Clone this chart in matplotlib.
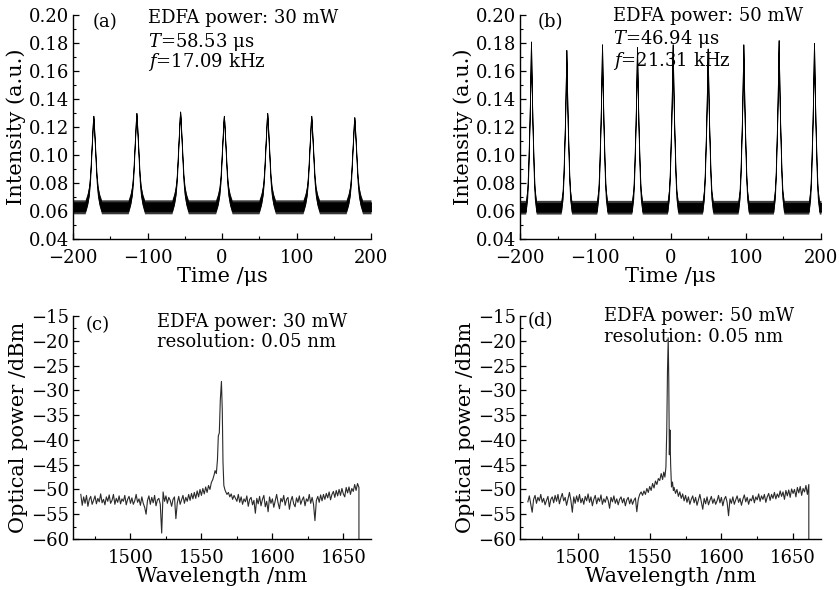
import numpy as np
import matplotlib
matplotlib.use("Agg")
import matplotlib.pyplot as plt
from matplotlib.ticker import MultipleLocator

# ---------------------------------------------------------
# DATA
# ---------------------------------------------------------
# (a) 30 mW pulse train
A_PEAK_T = [-172.7, -114.9, -56.2, 2.5, 60.7, 119.8, 177.6]
A_PEAK_I = [0.128, 0.130, 0.131, 0.128, 0.130, 0.128, 0.127]
A_BAND_OUT = (0.0580, 0.0680)   # faint noise extremes
A_BAND_IN = (0.0598, 0.0662)    # dense noise band
# pulse shape: time offset (us) vs. fraction of height above the band
A_SHAPE_DT = [-11, -8, -6, -4.5, -3.5, -2.5, -1.5, -0.6, 0, 0.6, 1.5, 2.5, 3.5, 4.5, 6, 8, 11]
A_SHAPE_F = [0, 0.08, 0.17, 0.30, 0.45, 0.62, 0.78, 0.93, 1, 0.93, 0.78, 0.62, 0.45, 0.30, 0.17, 0.08, 0]

# (b) 50 mW pulse train
B_PEAK_T = [-185.4, -138.4, -91.0, -44.5, 2.9, 49.4, 96.8, 143.7, 190.7]
B_PEAK_I = [0.181, 0.175, 0.179, 0.177, 0.179, 0.176, 0.179, 0.182, 0.180]
B_BAND_OUT = (0.0578, 0.0676)
B_BAND_IN = (0.0595, 0.0658)
B_SHAPE_DT = [-7, -5, -3.8, -2.9, -2, -1.3, -0.6, 0, 0.6, 1.3, 2, 2.9, 3.8, 5, 7]
B_SHAPE_F = [0, 0.08, 0.20, 0.35, 0.50, 0.65, 0.83, 1, 0.83, 0.65, 0.50, 0.35, 0.20, 0.08, 0]

# (c) 30 mW spectrum
C_LEFT = [-51.0, -53.2, -51.5, -52.8, -51.2, -53.4, -52.0, -51.4, -53.0, -52.2,
          -51.3, -52.9, -51.8, -52.5, -50.9, -52.7, -52.0, -53.1, -51.5, -52.4,
          -51.1, -52.8, -52.2, -51.0, -53.0, -51.8, -52.6, -51.3, -52.9, -51.9,
          -52.4, -51.2, -53.1, -52.0, -51.4, -52.8, -51.7, -53.0, -52.3, -51.0,
          -52.6, -51.9, -53.2, -51.5, -52.8, -53.6, -55.0, -52.2, -51.3, -53.0,
          -51.6, -52.7, -51.2, -53.3, -52.1, -51.8, -53.0, -58.8, -50.5, -52.4,
          -51.3, -52.8, -51.6, -52.2, -53.4, -52.0, -51.5, -55.9, -52.7, -51.4,
          -53.0, -52.1, -51.2, -52.8, -51.6, -52.4, -51.0, -52.2, -50.8, -51.9,
          -50.6, -51.8, -50.3, -51.5, -50.0, -51.2, -49.8, -50.9, -49.5, -50.6,
          -49.2, -50.0, -48.6]                       # 1465 ... 1557 nm
C_PEAK_WL = [1558, 1559, 1559.6, 1560.5, 1561.3, 1561.9, 1562.6, 1563.3, 1564.1,
             1564.7, 1565.2, 1565.8, 1566.5]
C_PEAK_P = [-48.0, -47.0, -46.2, -46.8, -44.0, -39.2, -38.6, -32.0, -28.2,
            -34.0, -44.5, -49.2, -50.0]
C_RIGHT = [-50.4, -51.0, -50.6, -51.5, -50.9, -52.0, -51.2, -51.8, -52.4, -51.0,
           -52.6, -51.5, -53.0, -51.9, -52.5, -51.3, -53.4, -52.0, -51.6, -53.1,
           -52.2, -54.8, -51.8, -52.9, -51.4, -53.3, -52.0, -51.2, -53.5, -52.4,
           -54.5, -51.5, -52.8, -51.9, -53.6, -52.3, -51.0, -52.7, -53.9, -51.8,
           -52.5, -51.2, -53.2, -52.0, -51.6, -54.0, -52.3, -51.4, -52.9, -53.5,
           -51.7, -52.6, -51.3, -53.0, -52.1, -51.5, -53.3, -51.9, -52.4, -51.0,
           -52.8, -51.6, -53.0, -56.3, -52.2, -51.4, -52.6, -51.1, -52.3, -51.0,
           -52.0, -50.8, -51.7, -50.5, -52.1, -51.0, -50.4, -51.6, -50.2, -51.3,
           -50.0, -51.2, -49.8, -50.9, -51.5, -49.6, -50.7, -49.5, -51.0, -49.8,
           -50.4, -49.0, -50.2, -48.8, -49.6]        # 1567 ... 1661 nm

# (d) 50 mW spectrum
D_LEFT = [-52.5, -51.3, -53.0, -54.6, -52.0, -51.2, -52.8, -51.6, -52.3, -51.0,
          -52.6, -51.8, -53.1, -52.2, -51.4, -53.5, -52.0, -51.5, -52.7, -51.2,
          -52.4, -51.0, -52.9, -51.7, -50.8, -52.3, -51.6, -53.2, -51.9, -50.6,
          -52.2, -54.6, -51.5, -52.8, -51.3, -52.5, -51.0, -52.7, -51.8, -53.0,
          -51.4, -52.3, -50.9, -52.6, -51.5, -53.3, -52.0, -51.2, -52.9, -51.7,
          -52.4, -51.1, -53.0, -51.9, -52.6, -51.4, -52.2, -53.8, -51.6, -52.5,
          -51.3, -52.8, -51.9, -53.1, -52.0, -51.5, -52.7, -51.8, -53.3, -52.1,
          -51.6, -52.9, -51.9, -53.0, -52.2, -51.7, -54.5, -52.0, -51.0, -50.5,
          -51.2, -50.3, -51.0, -49.8, -50.6, -49.4, -50.2, -48.8, -49.7, -48.3,
          -49.0, -47.8, -48.2]                       # 1465 ... 1557 nm
D_PEAK_WL = [1558, 1559, 1559.8, 1560.6, 1561.3, 1561.9, 1562.4, 1562.9, 1563.3,
             1563.7, 1564.1, 1564.6, 1565.2, 1565.9, 1566.5]
D_PEAK_P = [-46.8, -48.0, -46.5, -47.5, -45.5, -38.0, -26.0, -19.4, -28.0,
            -43.0, -38.0, -45.0, -49.5, -48.5, -50.2]
D_RIGHT = [-49.6, -50.8, -50.0, -51.4, -50.5, -51.8, -50.9, -52.3, -51.2, -52.6,
           -51.5, -53.0, -52.0, -51.3, -52.7, -51.6, -53.2, -52.1, -51.0, -52.5,
           -54.0, -51.8, -52.9, -51.5, -53.1, -52.2, -51.4, -52.8, -51.9, -53.0,
           -52.3, -51.2, -52.7, -51.6, -53.3, -52.0, -51.4, -52.6, -55.3, -51.9,
           -52.8, -51.5, -53.0, -52.1, -51.3, -52.6, -51.8, -53.2, -52.0, -51.1,
           -52.5, -51.6, -53.0, -51.9, -52.3, -51.2, -52.7, -51.5, -52.1, -50.9,
           -52.4, -51.3, -52.0, -51.0, -52.6, -51.5, -50.8, -52.2, -51.0, -51.8,
           -50.6, -51.9, -50.9, -51.6, -50.3, -51.4, -50.5, -52.0, -50.2, -51.3,
           -50.1, -51.6, -49.9, -50.8, -50.0, -51.5, -49.6, -50.7, -49.4, -51.2,
           -49.8, -50.5, -49.2, -51.0, -49.0]        # 1567 ... 1661 nm

# ---------------------------------------------------------
# STYLE
# ---------------------------------------------------------
plt.rcParams["font.family"] = ["DejaVu Serif"]
plt.rcParams["mathtext.fontset"] = "dejavuserif"

TICK_FS = 13
LABEL_FS = 15
NOTE_FS = 13


def style_axes(ax):
    for s in ("top", "right"):
        ax.spines[s].set_visible(False)
    for s in ("left", "bottom"):
        ax.spines[s].set_linewidth(1.0)
    ax.tick_params(which="both", direction="in", top=False, right=False, labelsize=TICK_FS)
    ax.tick_params(which="major", length=4, width=0.9)
    ax.tick_params(which="minor", length=2.5, width=0.8)
    ax.tick_params(axis="x", which="major", pad=7)
    ax.tick_params(axis="y", which="major", pad=3)


def pulse_train(peak_t, peak_i, dt, frac, band):
    lo, hi = band
    xs, lows, highs = [-200.0], [lo], [hi]
    for t0, p in zip(peak_t, peak_i):
        for d, f in zip(dt, frac):
            xs.append(t0 + d)
            lows.append(lo + f * (p - lo))
            highs.append(hi + f * (p - hi))
    xs.append(200.0); lows.append(lo); highs.append(hi)
    return np.array(xs), np.array(lows), np.array(highs)


def draw_time(ax, peak_t, peak_i, dt, frac, band_out, band_in):
    x, lo, hi = pulse_train(peak_t, peak_i, dt, frac, band_out)
    ax.fill_between(x, lo, hi, color="#3a3a3a", lw=0)
    x, lo, hi = pulse_train(peak_t, peak_i, dt, frac, band_in)
    ax.fill_between(x, lo, hi, color="black", lw=0.6, edgecolor="black")
    ax.set_xlim(-200, 200)
    ax.set_ylim(0.04, 0.20)
    ax.xaxis.set_major_locator(MultipleLocator(100))
    ax.xaxis.set_minor_locator(MultipleLocator(50))
    ax.yaxis.set_major_locator(MultipleLocator(0.02))
    ax.yaxis.set_minor_locator(MultipleLocator(0.01))
    ax.yaxis.set_major_formatter(plt.FormatStrFormatter("%.2f"))
    ax.set_xlabel("Time /μs", fontsize=LABEL_FS, labelpad=0)
    ax.set_ylabel("Intensity (a.u.)", fontsize=LABEL_FS, labelpad=2)
    style_axes(ax)


def draw_spec(ax, left, pk_wl, pk_p, right):
    wl = np.concatenate([np.arange(1465, 1558), pk_wl, np.arange(1567, 1662), [1661]])
    p = np.concatenate([left, pk_p, right, [-60]])
    ax.plot(wl, p, color="#2a2a2a", lw=0.8)
    ax.set_xlim(1459.5, 1669.5)
    ax.set_ylim(-60, -15)
    ax.xaxis.set_minor_locator(MultipleLocator(25))
    ax.yaxis.set_major_locator(MultipleLocator(5))
    ax.yaxis.set_minor_locator(MultipleLocator(2.5))
    ax.set_xticks([1500, 1550, 1600, 1650])
    ax.set_xlabel("Wavelength /nm", fontsize=LABEL_FS, labelpad=0)
    ax.set_ylabel("Optical power /dBm", fontsize=LABEL_FS, labelpad=2)
    style_axes(ax)


# ---------------------------------------------------------
# FIGURE
# ---------------------------------------------------------
fig = plt.figure(figsize=(8.39, 5.90), dpi=100)
W, H = 839.0, 590.0
ax_a = fig.add_axes([73 / W, 1 - 239 / H, 298 / W, 224 / H])
ax_b = fig.add_axes([520 / W, 1 - 239 / H, 301 / W, 224 / H])
ax_c = fig.add_axes([73 / W, 1 - 539 / H, 298 / W, 223 / H])
ax_d = fig.add_axes([520 / W, 1 - 539 / H, 301 / W, 223 / H])

draw_time(ax_a, A_PEAK_T, A_PEAK_I, A_SHAPE_DT, A_SHAPE_F, A_BAND_OUT, A_BAND_IN)
draw_time(ax_b, B_PEAK_T, B_PEAK_I, B_SHAPE_DT, B_SHAPE_F, B_BAND_OUT, B_BAND_IN)
draw_spec(ax_c, C_LEFT, C_PEAK_WL, C_PEAK_P, C_RIGHT)
draw_spec(ax_d, D_LEFT, D_PEAK_WL, D_PEAK_P, D_RIGHT)

# annotations
ax_a.text(-157, 0.195, "(a)", ha="center", va="center", fontsize=NOTE_FS)
ax_a.text(-100, 0.198, "EDFA power: 30 mW", va="center", fontsize=NOTE_FS)
ax_a.text(-100, 0.181, "$T$=58.53 μs", va="center", fontsize=NOTE_FS)
ax_a.text(-100, 0.1665, "$f$=17.09 kHz", va="center", fontsize=NOTE_FS)

ax_b.text(-159, 0.195, "(b)", ha="center", va="center", fontsize=NOTE_FS)
ax_b.text(-76, 0.199, "EDFA power: 50 mW", va="center", fontsize=NOTE_FS)
ax_b.text(-76, 0.183, "$T$=46.94 μs", va="center", fontsize=NOTE_FS)
ax_b.text(-76, 0.1675, "$f$=21.31 kHz", va="center", fontsize=NOTE_FS)

ax_c.text(1477, -16.8, "(c)", ha="center", va="center", fontsize=NOTE_FS)
ax_c.text(1519, -16.2, "EDFA power: 30 mW", va="center", fontsize=NOTE_FS)
ax_c.text(1519, -20.2, "resolution: 0.05 nm", va="center", fontsize=NOTE_FS)

ax_d.text(1474, -16.0, "(d)", ha="center", va="center", fontsize=NOTE_FS)
ax_d.text(1518, -15.0, "EDFA power: 50 mW", va="center", fontsize=NOTE_FS)
ax_d.text(1518, -19.2, "resolution: 0.05 nm", va="center", fontsize=NOTE_FS)

fig.savefig("out.png", dpi=100)
plt.close(fig)
